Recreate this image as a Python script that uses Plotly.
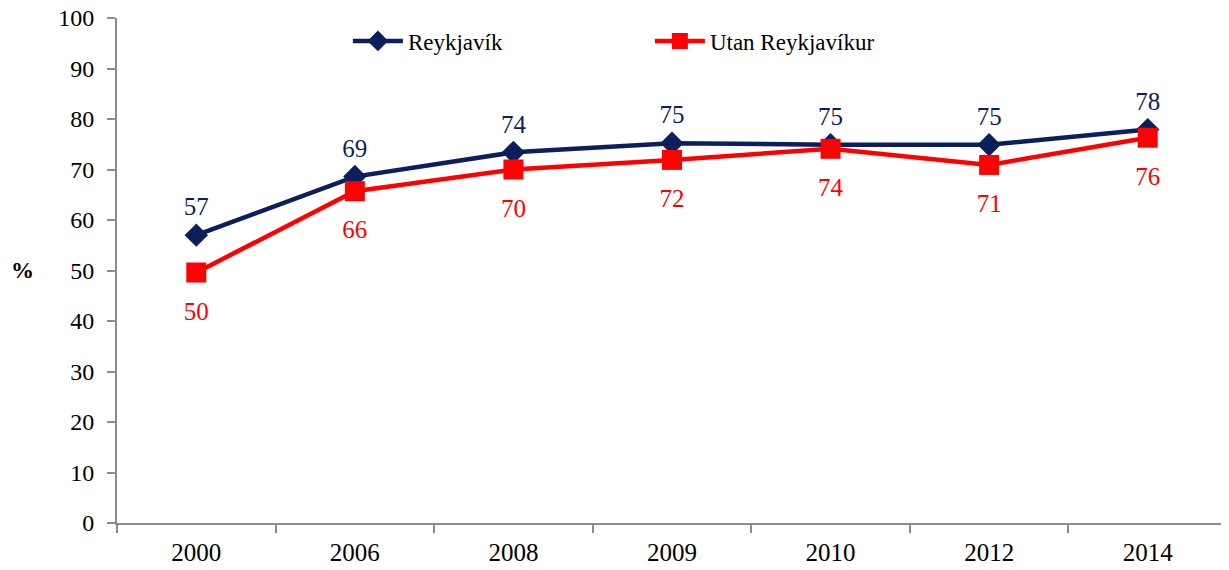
import plotly.graph_objects as go

years = ['2000', '2006', '2008', '2009', '2010', '2012', '2014']
reykjavik = [57, 68.6, 73.4, 75.2, 74.9, 74.9, 77.9]
utan_reykjavik = [49.6, 65.7, 70, 71.9, 74.1, 70.9, 76.3]
reykjavik_labels = ['57', '69', '74', '75', '75', '75', '78']
utan_labels = ['50', '66', '70', '72', '74', '71', '76']

navy = '#0B1F5C'
red = '#FF0000'
serif = 'Liberation Serif'

fig = go.Figure()

fig.add_trace(go.Scatter(
    x=years, y=reykjavik, name='Reykjavík', mode='lines+markers',
    line=dict(color=navy, width=4.5),
    marker=dict(symbol='diamond', size=18, color=navy)))

fig.add_trace(go.Scatter(
    x=years, y=utan_reykjavik, name='Utan Reykjavíkur', mode='lines+markers',
    line=dict(color=red, width=4.5),
    marker=dict(symbol='square', size=20, color=red)))

# data labels: invisible big markers push the text away from the line
fig.add_trace(go.Scatter(
    x=years, y=reykjavik, mode='markers+text', showlegend=False, hoverinfo='skip',
    marker=dict(size=20, color='rgba(0,0,0,0)'),
    text=reykjavik_labels, textposition='top center',
    textfont=dict(size=25, color=navy, family=serif)))

fig.add_trace(go.Scatter(
    x=years, y=utan_reykjavik, mode='markers+text', showlegend=False, hoverinfo='skip',
    marker=dict(size=44, color='rgba(0,0,0,0)'),
    text=utan_labels, textposition='bottom center',
    textfont=dict(size=25, color=red, family=serif)))

fig.add_annotation(text='<b>%</b>', x=-0.097, y=0.5, xref='paper', yref='paper',
                   showarrow=False, font=dict(size=23, color='black', family=serif))

fig.update_xaxes(
    type='category', range=[-0.5, 6.5], tickson='boundaries', ticks='outside', ticklen=8,
    tickcolor='#8C8C8C', tickwidth=2, showline=True, linecolor='#8C8C8C', linewidth=2,
    showgrid=False, ticklabelstandoff=6, automargin=False,
    tickfont=dict(size=25, color='black', family=serif))

fig.update_yaxes(
    range=[0, 100], dtick=10, ticks='outside', ticklen=8, tickcolor='#8C8C8C', tickwidth=2,
    showline=True, linecolor='#8C8C8C', linewidth=2, showgrid=False, zeroline=False,
    ticklabelstandoff=8, ticklabeloverflow='allow', automargin=False,
    tickfont=dict(size=24, color='black', family=serif))

# page body adds an 8px margin, so the figure is shrunk by that much
fig.update_layout(
    width=1221, height=562,
    margin=dict(l=109, r=2, t=10, b=47),
    plot_bgcolor='white', paper_bgcolor='white',
    font=dict(family=serif, color='black'),
    legend=dict(orientation='h', x=0.208, y=0.997, xanchor='left', yanchor='top',
                entrywidth=237, itemwidth=50, font=dict(size=23, family=serif),
                bgcolor='rgba(0,0,0,0)'),
)

fig.write_html('out.html')
